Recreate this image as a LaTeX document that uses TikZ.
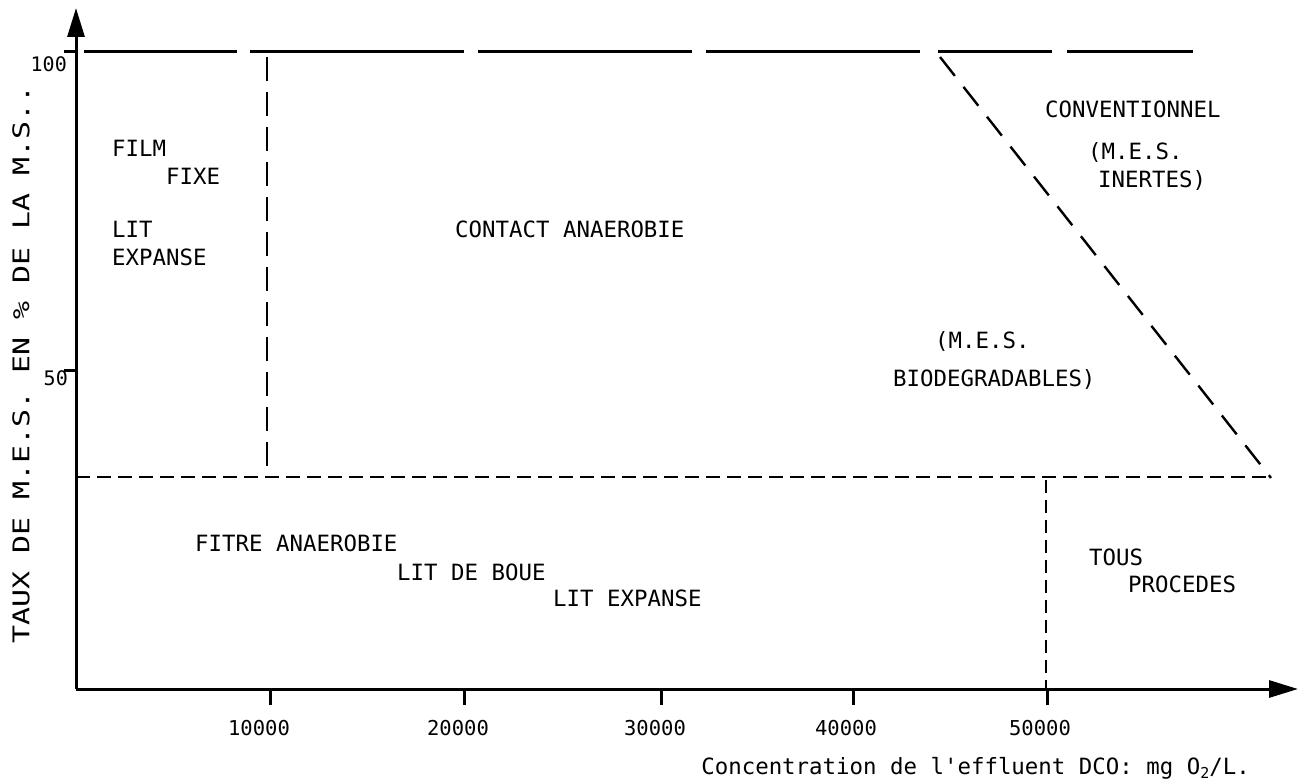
\documentclass[tikz,border=0pt]{standalone}
\usepackage{fontspec}
\setmonofont{DejaVu Sans Mono}
\usetikzlibrary{arrows.meta}
\tikzset{
  lbl/.style={font=\ttfamily\fontsize{22.4}{26}\selectfont, inner sep=0pt, anchor=west},
  ticklbl/.style={font=\ttfamily\fontsize{20.5}{24}\selectfont, inner sep=0pt},
  ylbl/.style={font=\ttfamily\fontsize{20}{24}\selectfont, inner sep=0pt},
  axisline/.style={line width=3pt},
  tickline/.style={line width=3pt},
  arrowtip/.style={-{Triangle[length=29pt,width=17pt]}},
  topline/.style={line width=3pt},
  dashv/.style={line width=2.6pt, dash pattern=on 24pt off 11pt},
  dashh/.style={line width=2.6pt, dash pattern=on 14pt off 7pt},
  dashd/.style={line width=2.4pt, dash pattern=on 24pt off 14pt},
  dashs/.style={line width=2.2pt, dash pattern=on 13pt off 7pt}
}
\begin{document}
\begin{tikzpicture}[x=1pt,y=-1pt]
\useasboundingbox (0,0) rectangle (1299,784);

% axes
\coordinate (O) at (76,689);
\coordinate (ytop) at (76,8);
\coordinate (xend) at (1298,689);
\draw[axisline, arrowtip] (O) -- (ytop);
\draw[axisline, arrowtip] (O) -- (xend);

% x ticks
\foreach \k/\xx in {1/270,2/464,3/661,4/853,5/1047}{
  \coordinate (xt\k) at (\xx,689);
  \coordinate (xb\k) at (\xx,705);
  \draw[tickline] (xt\k) -- (xb\k);
}
% y ticks
\coordinate (t100a) at (64,52); \coordinate (t100b) at (76,52);
\coordinate (t50a) at (64,370); \coordinate (t50b) at (76,370);
\draw[tickline] (t100a) -- (t100b);
\draw[tickline] (t50a) -- (t50b);

% tick labels
\node[ticklbl] (l10) at (259,728) {10000};
\node[ticklbl] (l20) at (458,728) {20000};
\node[ticklbl] (l30) at (655,728) {30000};
\node[ticklbl] (l40) at (846,728) {40000};
\node[ticklbl] (l50) at (1040,728) {50000};
\node[ylbl, anchor=east] (l100) at (67,64) {100};
\node[ylbl, anchor=east] (l50y) at (68,378) {50};

% axis titles
\node[font=\ttfamily\fontsize{22.4}{26}\selectfont, inner sep=0pt, anchor=east] (xtitle) at (1250,768)
  {Concentration de l'effluent DCO: mg O\raisebox{-0.35ex}{\fontsize{15}{17}\selectfont 2}/L.};
\node[font=\ttfamily\fontsize{23}{26}\selectfont, inner sep=0pt, rotate=90] (ytitle) at (21,364)
  {\scalebox{1.3}[1]{TAUX DE M.E.S. EN \% DE LA M.S..}};

% top (100%) line
\foreach \k/\a/\b in {1/84/237,2/250/464,3/478/692,4/706/920,5/938/1052,6/1067/1193}{
  \coordinate (ta\k) at (\a,52);
  \coordinate (tb\k) at (\b,52);
  \draw[topline] (ta\k) -- (tb\k);
}

% region boundaries
\coordinate (v1a) at (267,57);
\coordinate (v1b) at (267,478);
\coordinate (hA) at (76,477);
\coordinate (hB) at (1271,477);
\coordinate (dA) at (940,57);
\coordinate (dB) at (1271,478);
\coordinate (v2a) at (1046,480);
\coordinate (v2b) at (1046,688);
\draw[dashv] (v1a) -- (v1b);
\draw[dashh] (hA) -- (hB);
\draw[dashd] (dA) -- (dB);
\draw[dashs] (v2a) -- (v2b);

% region labels
\node[lbl] (film) at (112,148) {FILM};
\node[lbl] (fixe) at (166,176) {FIXE};
\node[lbl] (lit1) at (112,229) {LIT};
\node[lbl] (exp1) at (112,257) {EXPANSE};
\node[lbl] (contact) at (455,229) {CONTACT ANAEROBIE};
\node[lbl] (conv) at (1045,109) {CONVENTIONNEL};
\node[lbl] (mes1) at (1088,152) {(M.E.S.};
\node[lbl] (inert) at (1098,180) {INERTES)};
\node[lbl] (mes2) at (935,341) {(M.E.S.};
\node[lbl] (biod) at (893,379) {BIODEGRADABLES)};
\node[lbl] (fitre) at (195,543) {FITRE ANAEROBIE};
\node[lbl] (boue) at (397,572) {LIT DE BOUE};
\node[lbl] (exp2) at (553,598) {LIT EXPANSE};
\node[lbl] (tous) at (1089,557) {TOUS};
\node[lbl] (proc) at (1128,584) {PROCEDES};
\end{tikzpicture}
\end{document}
